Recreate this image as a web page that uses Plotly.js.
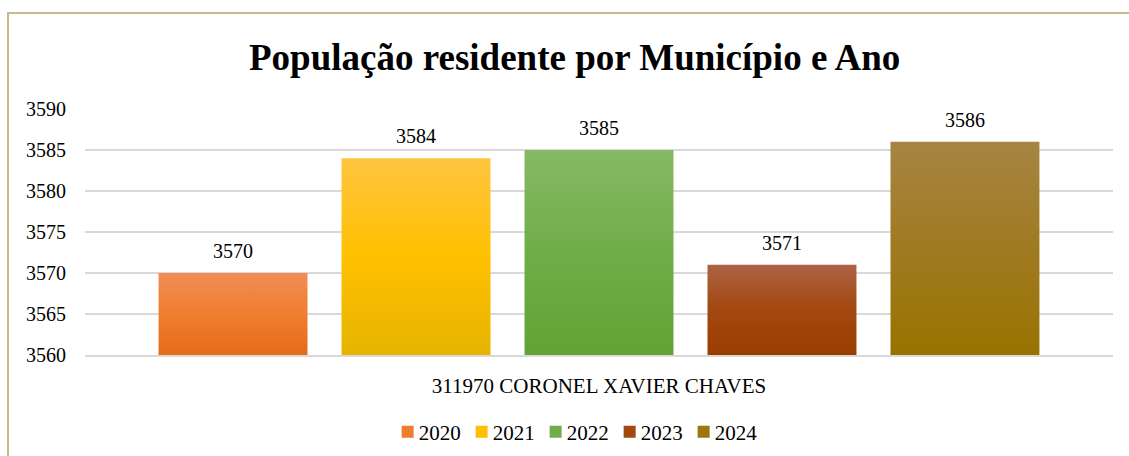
<!DOCTYPE html>
<html>
<head>
<meta charset="utf-8">
<script src="https://cdn.plot.ly/plotly-3.0.1.min.js"></script>
<style>
  html, body { margin: 0; padding: 0; background: #fff; }
  #chart { width: 1129px; height: 456px; }
  #frame { position: absolute; left: 7px; top: 12px; width: 1300px; height: 600px;
           border-top: 2px solid #c6b98c; border-left: 2px solid #c6b98c; pointer-events: none; }
</style>
</head>
<body>
<div id="chart"></div>
<div id="frame"></div>
<script>
// dados
var municipio = '311970 CORONEL XAVIER CHAVES';
var anos = ['2020', '2021', '2022', '2023', '2024'];
var populacao = [3570, 3584, 3585, 3571, 3586];
var cores = ['#ED7D31', '#FFC000', '#70AD47', '#A3480F', '#9E7610'];
// degradê: topo, meio, base
var degrade = [
  ['#F08D55', '#F07E2E', '#E36C1A'],
  ['#FFC540', '#FFC000', '#E6B400'],
  ['#86B966', '#70AD47', '#62A235'],
  ['#AD6245', '#A3480F', '#9A3D00'],
  ['#A68544', '#A07A20', '#997300']
];

var fonte = '"Liberation Serif", serif';

var data = anos.map(function (ano, i) {
  return {
    type: 'bar',
    name: ano,
    x: [municipio],
    y: [populacao[i]],
    text: [String(populacao[i])],
    textposition: 'outside',
    textfont: { family: fonte, size: 20, color: '#000' },
    marker: { color: cores[i] },
    hoverinfo: 'name+y'
  };
});

var layout = {
  width: 1129,
  height: 456,
  margin: { l: 85, r: 16, t: 109, b: 101, autoexpand: false },
  paper_bgcolor: '#fff',
  plot_bgcolor: '#fff',
  font: { family: fonte, size: 20, color: '#000' },
  title: {
    text: '<b>População residente por Município e Ano</b>',
    font: { family: fonte, size: 37, color: '#000' },
    xref: 'container', x: 0.509, xanchor: 'center',
    yref: 'container', y: 0.875, yanchor: 'middle'
  },
  barmode: 'group',
  bargap: 0.11,
  bargroupgap: 0.186,
  xaxis: {
    range: [-0.5, 0.5],
    showgrid: false, zeroline: false, ticks: '',
    showline: true, linecolor: '#d9d9d9', linewidth: 1.5,
    ticklabelstandoff: 11,
    tickfont: { family: fonte, size: 21, color: '#000' }
  },
  yaxis: {
    range: [3560, 3590], dtick: 5, tick0: 3560,
    gridcolor: '#d9d9d9', gridwidth: 1.5,
    zeroline: false, showline: false, ticks: '',
    ticklabelstandoff: 18,
    tickfont: { family: fonte, size: 20, color: '#000' }
  },
  showlegend: true,
  legend: {
    orientation: 'h', x: 0.523, xanchor: 'center', y: -0.313, yanchor: 'middle',
    font: { family: fonte, size: 21, color: '#000' },
    itemwidth: 30, traceorder: 'normal',
    entrywidth: 49, entrywidthmode: 'pixels'
  }
};

Plotly.newPlot('chart', data, layout, { displayModeBar: false, staticPlot: true }).then(function (gd) {
  var svg = gd.querySelector('svg.main-svg');
  var ns = 'http://www.w3.org/2000/svg';
  var defs = svg.querySelector('defs') || svg.insertBefore(document.createElementNS(ns, 'defs'), svg.firstChild);
  var altura = gd._fullLayout._size.h;
  var traces = gd.querySelectorAll('.barlayer .trace.bars');
  traces.forEach(function (tr, i) {
    tr.querySelectorAll('.point path').forEach(function (p, j) {
      var topo = p.getBBox().y;
      var g = document.createElementNS(ns, 'linearGradient');
      g.setAttribute('id', 'grad' + i + '_' + j);
      g.setAttribute('gradientUnits', 'userSpaceOnUse');
      g.setAttribute('x1', '0'); g.setAttribute('y1', String(topo));
      g.setAttribute('x2', '0'); g.setAttribute('y2', String(altura));
      degrade[i].forEach(function (c, k) {
        var s = document.createElementNS(ns, 'stop');
        s.setAttribute('offset', (k * 50) + '%');
        s.setAttribute('stop-color', c);
        g.appendChild(s);
      });
      defs.appendChild(g);
      p.style.fill = 'url(#grad' + i + '_' + j + ')';
    });
    // afasta o rótulo do topo da barra, como no original
    tr.querySelectorAll('.point text').forEach(function (t) {
      t.setAttribute('y', parseFloat(t.getAttribute('y')) - 8);
    });
  });
  // legenda: texto mais perto do quadradinho e itens mais juntos
  gd.querySelectorAll('.legend .legendtext').forEach(function (t) {
    t.setAttribute('x', parseFloat(t.getAttribute('x')) - 9);
  });
  var itens = gd.querySelectorAll('.legend .traces');
  var x0 = null;
  itens.forEach(function (it, i) {
    var m = /translate\(\s*([-\d.]+)[ ,]+([-\d.]+)/.exec(it.getAttribute('transform') || '');
    if (!m) return;
    if (x0 === null) x0 = parseFloat(m[1]);
    it.setAttribute('transform', 'translate(' + (x0 + i * 74) + ',' + m[2] + ')');
  });
});
</script>
</body>
</html>
